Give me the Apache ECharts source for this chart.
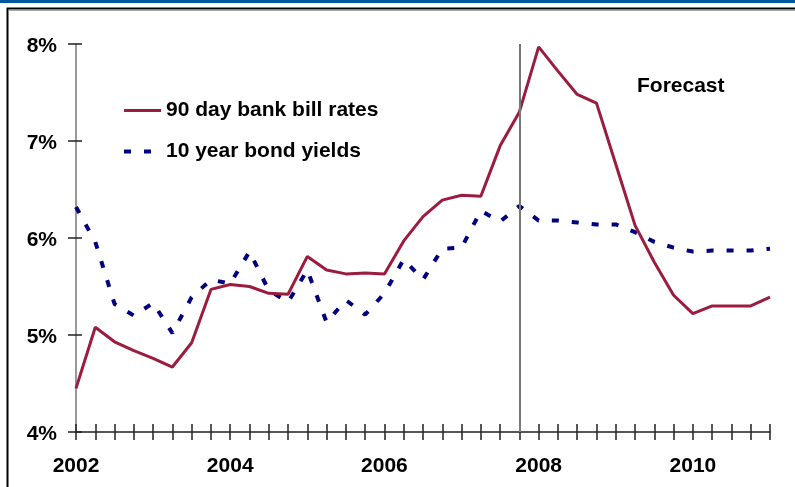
<!DOCTYPE html>
<html>
<head>
<meta charset="utf-8">
<script src="https://cdn.jsdelivr.net/npm/echarts@6/dist/echarts.min.js"></script>
<style>
html,body{margin:0;padding:0;background:#fff;}
#c{width:795px;height:487px;}
</style>
</head>
<body>
<div id="c"></div>
<script>
// Quarterly categories 2002 Q1 .. 2011 Q1
const quarters = [
  '2002 Q1','2002 Q2','2002 Q3','2002 Q4',
  '2003 Q1','2003 Q2','2003 Q3','2003 Q4',
  '2004 Q1','2004 Q2','2004 Q3','2004 Q4',
  '2005 Q1','2005 Q2','2005 Q3','2005 Q4',
  '2006 Q1','2006 Q2','2006 Q3','2006 Q4',
  '2007 Q1','2007 Q2','2007 Q3','2007 Q4',
  '2008 Q1','2008 Q2','2008 Q3','2008 Q4',
  '2009 Q1','2009 Q2','2009 Q3','2009 Q4',
  '2010 Q1','2010 Q2','2010 Q3','2010 Q4',
  '2011 Q1'
];
const billRates = [4.45, 5.08, 4.93, 4.84, 4.76, 4.67, 4.92, 5.47, 5.52, 5.50, 5.43, 5.42,
  5.81, 5.67, 5.63, 5.64, 5.63, 5.97, 6.22, 6.39, 6.44, 6.43, 6.95, 7.30,
  7.97, 7.72, 7.48, 7.39, 6.76, 6.13, 5.75, 5.41, 5.22, 5.30, 5.30, 5.30, 5.39];
const bondYields = [6.32, 5.96, 5.32, 5.20, 5.33, 5.02, 5.39, 5.57, 5.53, 5.86, 5.46, 5.34,
  5.67, 5.13, 5.36, 5.21, 5.43, 5.78, 5.57, 5.89, 5.90, 6.28, 6.17, 6.33,
  6.18, 6.18, 6.16, 6.14, 6.14, 6.06, 5.96, 5.90, 5.86, 5.87, 5.87, 5.87, 5.89];
const forecastStart = '2007 Q4';
const seriesNames = ['90 day bank bill rates', '10 year bond yields'];
const yTicks = {min: 4, max: 8, interval: 1};

const FONT = '"Liberation Sans", Arial, sans-serif';
const chart = echarts.init(document.getElementById('c'));
const baseX = {
  type: 'category', data: quarters, boundaryGap: false, position: 'bottom'
};
const baseY = {
  type: 'value', min: yTicks.min, max: yTicks.max, interval: yTicks.interval,
  splitLine: {show: false}, position: 'left'
};
chart.setOption({
  animation: false,
  backgroundColor: '#fff',
  grid: {left: 76, right: 25, top: 44, bottom: 55, containLabel: false},
  title: {
    text: 'Forecast', left: 637, top: 76, padding: 0,
    textStyle: {fontFamily: FONT, fontSize: 21, fontWeight: 'bold', color: '#000'}
  },
  legend: {
    orient: 'vertical', left: 122, top: 100, padding: 0,
    itemWidth: 37, itemHeight: 14, itemGap: 20,
    data: seriesNames,
    itemStyle: {color: 'transparent', borderWidth: 0, opacity: 0},
    lineStyle: {width: 'inherit', type: 'inherit'},
    textStyle: {fontFamily: FONT, fontSize: 21, fontWeight: 'bold', color: '#000', lineHeight: 21}
  },
  xAxis: [
    // ticks crossing the axis line: axis shifted up 8px, ticks 16px long
    Object.assign({}, baseX, {
      offset: -8,
      axisLine: {show: false},
      axisTick: {show: true, interval: 0, length: 16, inside: false, lineStyle: {color: '#222', width: 1.5}},
      axisLabel: {
        interval: 7, margin: 32,
        fontFamily: FONT, fontSize: 21, fontWeight: 'bold', color: '#000',
        formatter: v => v.slice(0, 4)
      }
    }),
    Object.assign({}, baseX, {
      axisLine: {show: true, lineStyle: {color: '#222', width: 1.5}},
      axisTick: {show: false},
      axisLabel: {show: false}
    })
  ],
  yAxis: [
    Object.assign({}, baseY, {
      offset: -6,
      axisLine: {show: false},
      axisTick: {show: true, length: 14, inside: false, lineStyle: {color: '#222', width: 1.5}},
      axisLabel: {
        margin: 25, fontFamily: FONT, fontSize: 21, fontWeight: 'bold', color: '#000',
        formatter: '{value}%', lineHeight: 25, verticalAlign: 'top', padding: [-10, 0, 0, 0]
      }
    }),
    Object.assign({}, baseY, {
      axisLine: {show: true, lineStyle: {color: '#777', width: 1.5}},
      axisTick: {show: false},
      axisLabel: {show: false}
    })
  ],
  series: [
    {
      name: seriesNames[0], type: 'line', data: billRates, symbol: 'none',
      xAxisIndex: 1, yAxisIndex: 1, z: 3,
      lineStyle: {color: '#9b1c3e', width: 3},
      itemStyle: {color: '#9b1c3e'},
      markLine: {
        silent: true, symbol: 'none', label: {show: false},
        lineStyle: {color: '#777', width: 2, type: 'solid'},
        data: [{xAxis: forecastStart}]
      }
    },
    {
      name: seriesNames[1], type: 'line', data: bondYields, symbol: 'none',
      xAxisIndex: 1, yAxisIndex: 1, z: 2,
      lineStyle: {color: '#000080', width: 4, type: [7, 13], cap: 'butt'},
      itemStyle: {color: '#000080'}
    }
  ],
  graphic: [
    {type: 'rect', shape: {x: 0, y: 0, width: 795, height: 3}, style: {fill: '#00589c'}, silent: true},
    {type: 'polyline', shape: {points: [[7.5, 487], [7.5, 8.5], [795, 8.5]]},
     style: {stroke: '#000', lineWidth: 2, fill: null}, silent: true},
    {type: 'line', shape: {x1: 9, y1: 10.5, x2: 795, y2: 10.5},
     style: {stroke: '#aaa', lineWidth: 1}, silent: true}
  ]
});
</script>
</body>
</html>
